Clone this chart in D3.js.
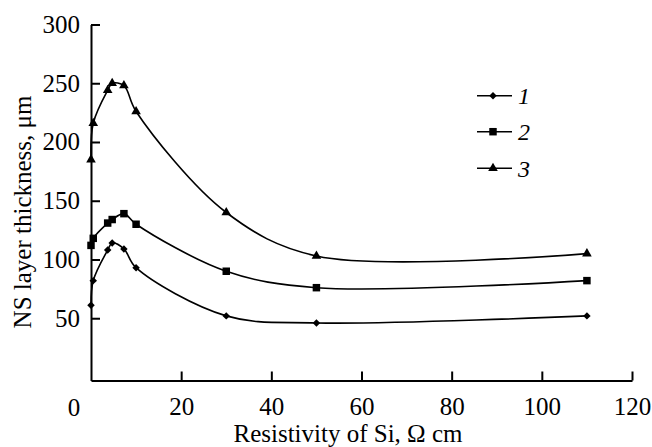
<!DOCTYPE html>
<html>
<head>
<meta charset="utf-8">
<script src="https://cdn.jsdelivr.net/npm/d3@7"></script>
<style>
  body { margin: 0; background: #fff; }
  svg text { font-family: "Liberation Serif", "Times New Roman", serif; fill: #000; }
</style>
</head>
<body>
<div id="chart"></div>
<script>
// Data
const resistivity = [0, 0.5, 3.7, 4.7, 7.3, 10, 30, 50, 110];
const series1 = [61, 82, 108, 114, 109, 93, 52, 46, 52];
const series2 = [112, 118, 131, 134, 139, 130, 90, 76, 82];
const series3 = [185, 216, 244, 250, 248, 226, 140, 103, 105];
const seriesNames = ["1", "2", "3"];
const xTicks = [20, 40, 60, 80, 100, 120];
const yTicks = [50, 100, 150, 200, 250, 300];

const width = 652, height = 447;
const serif = "'Liberation Serif', 'Times New Roman', serif";

const svg = d3.select("#chart")
    .append("svg")
    .attr("width", width)
    .attr("height", height);

// Scales (y starts a little below 0 so the axes meet under the 0 level)
const xScale = d3.scaleLinear().domain([0, 120]).range([91, 632]);
const yScale = d3.scaleLinear().domain([-3, 300]).range([380.5, 24.5]);

// Axes, ticks pointing inward
const xAxis = svg.append("g")
    .attr("transform", `translate(0, ${yScale(-3)})`)
    .call(d3.axisBottom(xScale).tickValues(xTicks).tickSize(-9).tickSizeOuter(0).tickPadding(17));

const yAxis = svg.append("g")
    .attr("transform", `translate(${xScale(0)}, 0)`)
    .call(d3.axisLeft(yScale).tickValues(yTicks).tickSize(-9).tickSizeOuter(0).tickPadding(11));

svg.selectAll(".domain, .tick line")
    .attr("stroke", "#000")
    .attr("stroke-width", 2);
svg.selectAll("g").attr("font-family", null);
svg.selectAll(".tick text")
    .style("font-family", serif)
    .style("font-size", "25px");

// the lone "0" at the corner
svg.append("text")
    .attr("x", xScale(0) - 17)
    .attr("y", yScale(-3) + 35)
    .attr("text-anchor", "middle")
    .style("font-size", "25px")
    .text("0");

// Axis labels
svg.append("text")
    .attr("text-anchor", "middle")
    .attr("x", 348)
    .attr("y", 442)
    .style("font-size", "25px")
    .text("Resistivity of Si, Ω cm");

svg.append("text")
    .attr("text-anchor", "middle")
    .attr("transform", "translate(31, 212) rotate(-90)")
    .style("font-size", "25px")
    .text("NS layer thickness, μm");

// Lines and markers
const symbols = [
    { type: d3.symbolSquare, size: 28, rotate: 45 },
    { type: d3.symbolSquare, size: 56, rotate: 0 },
    { type: d3.symbolTriangle, size: 40, rotate: 0 }
];

const line = d3.line()
    .x(d => xScale(d.x))
    .y(d => yScale(d.y))
    .curve(d3.curveCatmullRom.alpha(0.5));

[series1, series2, series3].forEach((values, i) => {
    const pts = values.map((v, j) => ({ x: resistivity[j], y: v }));

    svg.append("path")
        .datum(pts)
        .attr("fill", "none")
        .attr("stroke", "#000")
        .attr("stroke-width", 1.6)
        .attr("d", line);

    svg.selectAll(".pt" + i)
        .data(pts)
        .enter()
        .append("path")
        .attr("class", "pt" + i)
        .attr("transform", d => `translate(${xScale(d.x)},${yScale(d.y)}) rotate(${symbols[i].rotate})`)
        .attr("d", d3.symbol().type(symbols[i].type).size(symbols[i].size))
        .attr("fill", "#000");
});

// Legend
const legend = svg.append("g");
const legendY = [95.7, 131.7, 168.3];

seriesNames.forEach((name, i) => {
    const g = legend.append("g").attr("transform", `translate(0, ${legendY[i]})`);
    g.append("line")
        .attr("x1", 477).attr("x2", 512)
        .attr("stroke", "#000").attr("stroke-width", 1.6);
    g.append("path")
        .attr("transform", `translate(493, 0) rotate(${symbols[i].rotate})`)
        .attr("d", d3.symbol().type(symbols[i].type).size(symbols[i].size))
        .attr("fill", "#000");
    g.append("text")
        .attr("x", 518)
        .attr("dy", "0.35em")
        .style("font-size", "24px")
        .style("font-style", "italic")
        .text(name);
});
</script>
</body>
</html>
